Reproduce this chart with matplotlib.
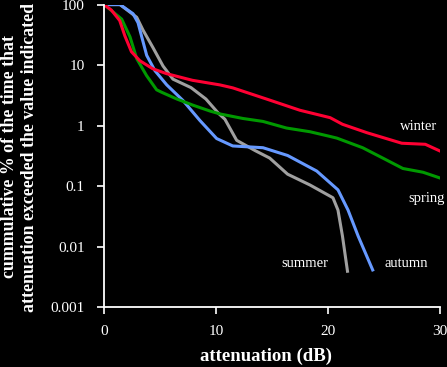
import matplotlib
matplotlib.use("Agg")
import matplotlib.pyplot as plt

# data (attenuation in dB, cumulative %)
winter_x = [0, 0.66, 1.4, 1.86, 2.45, 3.2, 4.35, 5.6, 7.9, 10.35, 11.5, 14.5, 17.5, 20.2, 21.3, 23.5, 26.6, 28.7, 30]
winter_y = [100, 81, 54.5, 30.5, 16.6, 11.8, 8.7, 7.2, 5.6, 4.7, 4.2, 2.75, 1.79, 1.35, 1.05, 0.76, 0.51, 0.49, 0.38]

spring_x = [0, 0.8, 1.58, 2.32, 2.92, 3.8, 4.7, 5.15, 6.5, 7.95, 9.5, 10.4, 12.4, 14.2, 16.3, 18.4, 20.2, 20.8, 23.1, 24.9, 26.7, 28.5, 30]
spring_y = [100, 75.8, 57.4, 29.3, 12.8, 6.7, 3.9, 3.55, 2.75, 2.17, 1.73, 1.55, 1.31, 1.17, 0.91, 0.79, 0.66, 0.62, 0.43, 0.29, 0.195, 0.169, 0.136]

autumn_x = [0, 1.43, 2.59, 3.04, 3.37, 3.81, 4.55, 5.6, 7.05, 8.57, 10.06, 11.5, 14.2, 16.4, 19.0, 20.9, 21.8, 22.7, 24.0]
autumn_y = [100, 100, 70.7, 50, 29.3, 14.5, 8.07, 4.71, 2.6, 1.21, 0.61, 0.46, 0.43, 0.32, 0.177, 0.0865, 0.040, 0.0149, 0.0041]

summer_x = [0, 1.43, 2.92, 3.48, 4.375, 5.27, 6.16, 7.77, 9.1, 10.2, 10.8, 11.85, 13.5, 14.8, 16.4, 18.4, 20.45, 20.9, 21.3, 21.75]
summer_y = [100, 100, 61.7, 38, 19.4, 9.65, 5.85, 4.24, 2.75, 1.61, 1.27, 0.57, 0.385, 0.29, 0.157, 0.104, 0.064, 0.040, 0.0149, 0.0039]

y_ticks = [0.001, 0.01, 0.1, 1, 10, 100]
y_tick_labels = ["0.001", "0.01", "0.1", "1", "10", "100"]
x_ticks = [0, 10, 20, 30]

fig = plt.figure(figsize=(4.47, 3.67), dpi=100, facecolor="black")
ax = fig.add_axes([0.2327, 0.1635, 0.7513, 0.824], facecolor="black")

lw = 2.2
ax.plot(summer_x, summer_y, color="#a0a0a0", lw=lw)
ax.plot(autumn_x, autumn_y, color="#6699ff", lw=lw)
ax.plot(spring_x, spring_y, color="#009900", lw=lw)
ax.plot(winter_x, winter_y, color="#ff0033", lw=lw)

ax.set_yscale("log")
ax.set_ylim(0.001, 100)
ax.set_xlim(0, 30)
ax.set_yticks(y_ticks)
ax.set_yticklabels(y_tick_labels)
ax.set_xticks(x_ticks)
ax.minorticks_off()

for s in ["top", "right"]:
    ax.spines[s].set_visible(False)
for s in ["left", "bottom"]:
    ax.spines[s].set_color("white")
    ax.spines[s].set_linewidth(1.3)

ax.tick_params(colors="white", direction="out", length=5, width=1.2)
ax.tick_params(axis="y", pad=9)
ax.tick_params(axis="x", pad=8)
for lab in ax.get_xticklabels() + ax.get_yticklabels():
    lab.set_fontfamily("Liberation Serif")
    lab.set_fontsize(11)
    lab.set_color("white")

fig.text(266 / 447, 1 - 356 / 367, "attenuation (dB)", color="white", fontsize=13.5,
         fontweight="bold", fontfamily="Liberation Serif", ha="center", va="center")
fig.text(19.5 / 447, 1 - 157 / 367,
         "cummulative % of the time that\nattenuation exceeded the value indicated",
         color="white", fontsize=12.8, fontweight="bold", fontfamily="Liberation Serif",
         rotation=90, ha="center", va="center", linespacing=1.2)

lab_kw = dict(color="white", fontsize=10.5, fontfamily="Liberation Serif", ha="center", va="center")
ax.text(28.1, 0.95, "winter", **lab_kw)
ax.text(28.8, 0.062, "spring", **lab_kw)
ax.text(17.9, 0.0053, "summer", **lab_kw)
ax.text(27.0, 0.0053, "autumn", **lab_kw)

fig.savefig("out.png", dpi=100, facecolor="black")
